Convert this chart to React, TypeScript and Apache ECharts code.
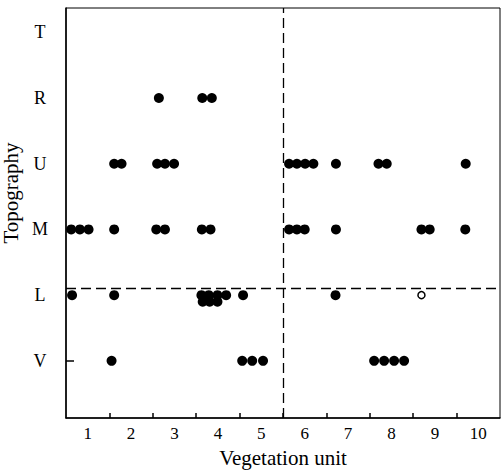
import React, { useEffect, useRef } from "react";
import * as echarts from "echarts";

// Topography levels, bottom (1) to top (6)
const topographyLevels = ["V", "L", "M", "U", "R", "T"];
const unitLabels = ["1", "2", "3", "4", "5", "6", "7", "8", "9", "10"];
const unitBoundaries = [1.5, 2.5, 3.5, 4.5, 5.5, 6.5, 7.5, 8.5, 9.5];

// Vegetation-unit positions of sampled plots per topography level
const unitsR = [2.64, 3.64, 3.86];
const unitsU = [1.61, 1.78, 2.6, 2.78, 2.99, 5.64, 5.82, 6.01, 6.2, 6.72, 7.7, 7.89, 9.71];
const unitsM = [0.62, 0.82, 1.02, 1.61, 2.58, 2.78, 3.63, 3.83, 5.64, 5.82, 6.0, 6.72, 8.69, 8.88, 9.7];
const unitsL = [0.64, 1.61, 3.62, 3.79, 3.99, 4.19, 4.58, 6.71];
const unitsLLower = [3.65, 3.81, 3.99];
const unitsV = [1.55, 4.56, 4.79, 5.04, 7.6, 7.83, 8.06, 8.29];
const openL = [8.69];

const levelR = 5;
const levelU = 4;
const levelM = 3;
const levelL = 2;
const levelLLower = 1.9;
const levelV = 1;

const dividerUnit = 5.5;
const dividerLevel = 2.11;

const FONT = "Liberation Serif";

export default function App() {
  const ref = useRef<HTMLDivElement>(null);
  useEffect(() => {
    if (!ref.current) return;
    const chart = echarts.init(ref.current, null, { renderer: "svg" });
    const filled: number[][] = [];
    const add = (xs: number[], y: number) => xs.forEach((x) => filled.push([x, y]));
    add(unitsR, levelR);
    add(unitsU, levelU);
    add(unitsM, levelM);
    add(unitsL, levelL);
    add(unitsLLower, levelLLower);
    add(unitsV, levelV);
    const open = openL.map((x) => [x, levelL]);

    chart.setOption({
      animation: false,
      backgroundColor: "#ffffff",
      grid: {
        left: 66,
        right: 1,
        top: 8,
        bottom: 53,
        outerBoundsMode: "none",
        containLabel: false,
        show: true,
        borderColor: "#000",
        borderWidth: 1,
        backgroundColor: "transparent",
      },
      xAxis: {
        type: "value",
        min: 0.5,
        max: 10.5,
        name: "Vegetation unit",
        nameLocation: "middle",
        nameGap: 29,
        nameTextStyle: { fontFamily: FONT, fontSize: 21, color: "#000" },
        axisLine: { show: true, lineStyle: { color: "#000", width: 1.5 } },
        axisTick: {
          show: true,
          inside: true,
          length: 5,
          customValues: unitBoundaries,
          lineStyle: { color: "#000", width: 1.5 },
        },
        axisLabel: {
          customValues: unitLabels.map((_, i) => i + 1),
          formatter: (v: number) => unitLabels[Math.round(v) - 1] ?? "",
          fontFamily: FONT,
          fontSize: 17,
          color: "#000",
          margin: 7,
        },
        splitLine: { show: false },
      },
      yAxis: {
        type: "value",
        min: 0.13,
        max: 6.37,
        name: "Topography",
        nameLocation: "middle",
        nameRotate: 90,
        nameGap: 37,
        nameTextStyle: {
          fontFamily: FONT,
          fontSize: 21,
          color: "#000",
          padding: [0, 0, 0, 40],
        },
        axisLine: { show: true, lineStyle: { color: "#000", width: 1.5 } },
        axisTick: {
          show: true,
          inside: true,
          length: 8,
          customValues: [levelV],
          lineStyle: { color: "#000", width: 1.5 },
        },
        axisLabel: {
          customValues: topographyLevels.map((_, i) => i + 1),
          formatter: (v: number) => topographyLevels[Math.round(v) - 1] ?? "",
          fontFamily: FONT,
          fontSize: 18,
          color: "#000",
          align: "center",
          margin: 26,
        },
        splitLine: { show: false },
      },
      series: [
        {
          type: "scatter",
          data: filled,
          symbol: "circle",
          symbolSize: 10,
          itemStyle: { color: "#000", opacity: 1 },
          markLine: {
            silent: true,
            symbol: "none",
            label: { show: false },
            lineStyle: { color: "#000", type: [10, 5], width: 1.3 },
            data: [{ xAxis: dividerUnit }, { yAxis: dividerLevel }],
          },
        },
        {
          type: "scatter",
          data: open,
          symbol: "circle",
          symbolSize: 7,
          itemStyle: { color: "#fff", borderColor: "#000", borderWidth: 1.5, opacity: 1 },
        },
      ],
    });
    return () => chart.dispose();
  }, []);
  return (
    <div
      ref={ref}
      style={{ position: "absolute", left: 0, top: 0, width: 501, height: 471 }}
    />
  );
}
